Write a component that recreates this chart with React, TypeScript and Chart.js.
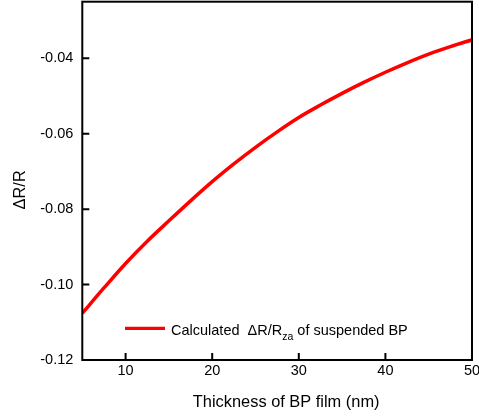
import React, { useEffect, useRef } from "react";
import { Chart, registerables } from "chart.js";

Chart.register(...registerables);

// ---- data ----
const THICKNESS_NM = [5, 7.5, 10, 12.5, 15, 17.5, 20, 22.5, 25, 27.5, 30, 32.5, 35, 37.5, 40, 42.5, 45, 47.5, 50];
const DELTA_R_OVER_R = [
  -0.1076, -0.1009, -0.0944, -0.0885, -0.0831, -0.0778, -0.0727, -0.068, -0.0636, -0.0595,
  -0.0557, -0.0524, -0.0493, -0.0464, -0.0437, -0.0412, -0.0389, -0.0369, -0.0351,
];
const X_TICKS = [10, 20, 30, 40, 50];
const Y_TICKS = [-0.12, -0.1, -0.08, -0.06, -0.04];
const X_MIN = 5;
const X_MAX = 50;
const Y_MIN = -0.12;
const Y_MAX = -0.025;
const X_TITLE = "Thickness of BP film (nm)";
const Y_TITLE = "\u0394R/R";
const LEGEND_MAIN = "Calculated  \u0394R/R";
const LEGEND_SUB = "za";
const LEGEND_TAIL = " of suspended BP";

const FONT = "'Liberation Sans', Arial, Helvetica, sans-serif";
const RED = "#ff0000";

const framePlugin = {
  id: "framePlugin",
  afterDraw(chart: any) {
    const { ctx, chartArea, scales } = chart;
    const { left, top, right, bottom } = chartArea;
    const x = scales.x;
    const y = scales.y;
    ctx.save();
    // frame
    ctx.strokeStyle = "#000";
    ctx.lineWidth = 2;
    ctx.strokeRect(left, top, right - left, bottom - top);
    // inward ticks
    ctx.beginPath();
    X_TICKS.forEach((v) => {
      const px = x.getPixelForValue(v);
      ctx.moveTo(px, bottom);
      ctx.lineTo(px, bottom - 7);
    });
    Y_TICKS.forEach((v) => {
      const py = y.getPixelForValue(v);
      ctx.moveTo(left, py);
      ctx.lineTo(left + 7, py);
    });
    ctx.stroke();

    // axis titles
    ctx.fillStyle = "#000";
    ctx.font = `16.4px ${FONT}`;
    ctx.textAlign = "center";
    ctx.textBaseline = "alphabetic";
    ctx.fillText(X_TITLE, (left + right) / 2 + 9, 406.7);
    ctx.save();
    ctx.translate(25, (top + bottom) / 2 + 9);
    ctx.rotate(-Math.PI / 2);
    ctx.fillText(Y_TITLE, 0, 0);
    ctx.restore();

    // legend
    const ly = 328.3;
    ctx.strokeStyle = RED;
    ctx.lineWidth = 3.3;
    ctx.beginPath();
    ctx.moveTo(125, ly);
    ctx.lineTo(165, ly);
    ctx.stroke();
    ctx.textAlign = "left";
    ctx.font = `14.5px ${FONT}`;
    let tx = 171;
    ctx.fillText(LEGEND_MAIN, tx, 335);
    tx += ctx.measureText(LEGEND_MAIN).width;
    ctx.font = `10.5px ${FONT}`;
    ctx.fillText(LEGEND_SUB, tx, 339.5);
    tx += ctx.measureText(LEGEND_SUB).width;
    ctx.font = `14.5px ${FONT}`;
    ctx.fillText(LEGEND_TAIL, tx, 335);
    ctx.restore();
  },
};

export default function App() {
  const canvasRef = useRef<HTMLCanvasElement | null>(null);

  useEffect(() => {
    document.body.style.margin = "0";
    const canvas = canvasRef.current;
    if (!canvas) return;
    const chart = new Chart(canvas, {
      type: "line",
      data: {
        datasets: [
          {
            label: "Calculated \u0394R/Rza of suspended BP",
            data: THICKNESS_NM.map((t, i) => ({ x: t, y: DELTA_R_OVER_R[i] })),
            borderColor: RED,
            backgroundColor: RED,
            borderWidth: 3.5,
            pointRadius: 0,
            fill: false,
            cubicInterpolationMode: "monotone",
          },
        ],
      },
      options: {
        animation: false,
        responsive: false,
        maintainAspectRatio: false,
        devicePixelRatio: 1,
        layout: { padding: { left: 0, top: 1.7, right: 7, bottom: 0 } },
        plugins: {
          legend: { display: false },
          tooltip: { enabled: false },
        },
        scales: {
          x: {
            type: "linear",
            min: X_MIN,
            max: X_MAX,
            grid: { display: false, drawTicks: false },
            border: { display: false },
            afterBuildTicks: (scale: any) => {
              scale.ticks = X_TICKS.map((v) => ({ value: v }));
            },
            afterFit: (scale: any) => {
              scale.height = 59;
              scale.paddingLeft = 0;
              scale.paddingRight = 0;
            },
            ticks: {
              autoSkip: false,
              maxRotation: 0,
              padding: 2,
              color: "#000",
              font: { family: FONT, size: 14.5 },
              callback: (v: any) => String(v),
            },
          },
          y: {
            type: "linear",
            min: Y_MIN,
            max: Y_MAX,
            grid: { display: false, drawTicks: false },
            border: { display: false },
            afterBuildTicks: (scale: any) => {
              scale.ticks = Y_TICKS.map((v) => ({ value: v }));
            },
            afterFit: (scale: any) => {
              scale.width = 82.3;
              scale.paddingTop = 0;
              scale.paddingBottom = 0;
            },
            ticks: {
              autoSkip: false,
              padding: 9,
              color: "#000",
              font: { family: FONT, size: 14.5 },
              callback: (v: any) => Number(v).toFixed(2),
            },
          },
        },
      },
      plugins: [framePlugin],
    });
    return () => chart.destroy();
  }, []);

  return (
    <div style={{ width: 479, height: 419 }}>
      <canvas ref={canvasRef} width={479} height={419} style={{ display: "block" }} />
    </div>
  );
}
